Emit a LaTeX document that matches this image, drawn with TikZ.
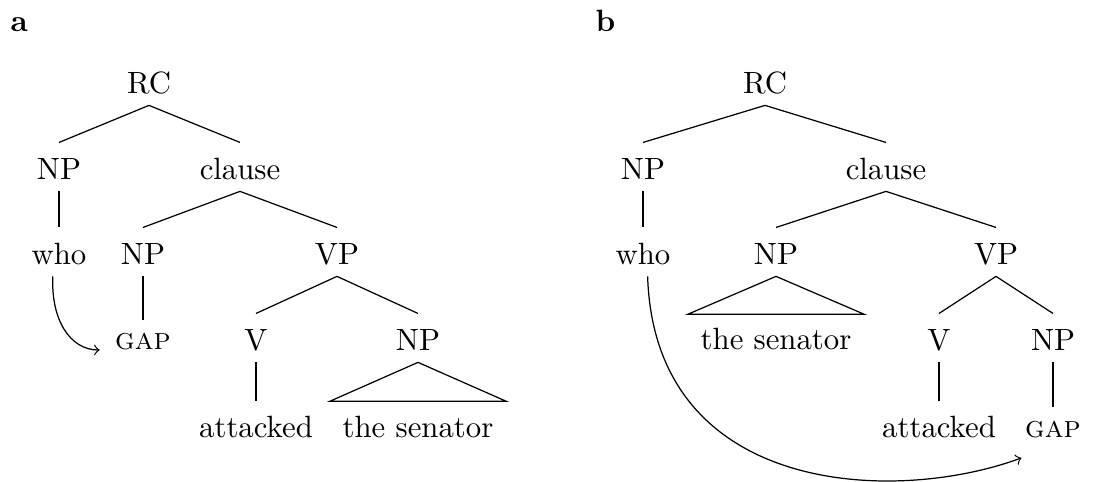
\documentclass[tikz,border=0pt]{standalone}
\begin{document}
\begin{tikzpicture}[x=0.325pt,y=-0.325pt,
  tn/.style={inner sep=0pt,anchor=base,text height=12pt,text depth=3.5pt},
  leaf/.style={inner sep=0pt,anchor=base,text height=11.4pt,text depth=3.5pt},
  gapn/.style={inner sep=0pt,anchor=base,text height=9.5pt,text depth=3.5pt},
  tri/.style={leaf,inner xsep=4pt},
  panel/.style={inner sep=0pt,anchor=base west,font=\bfseries},
  edge/.style={line width=0.4pt},
  move/.style={->,line width=0.4pt}]
\useasboundingbox (0,0) rectangle (1119,482);

% panel labels
\node[panel] (labA) at (10,32) {a};
\node[panel] (labB) at (595,32) {b};

% ---------- panel a ----------
\node[tn] (rcA) at (149,94) {RC};
\node[tn] (np1A) at (59,180) {NP};
\node[tn] (clA) at (240,180) {clause};
\node[tn] (whoA) at (59,265) {who};
\node[tn] (np2A) at (143,265) {NP};
\node[tn] (vpA) at (337,265) {VP};
\node[gapn] (gapA) at (143,350) {\textsc{gap}};
\node[tn] (vA) at (256,351) {V};
\node[tn] (np3A) at (418,351) {NP};
\node[leaf] (attA) at (256,437) {attacked};
\node[tri] (senA) at (418,437) {the senator};

\draw[edge] (rcA.south) -- (np1A.north);
\draw[edge] (rcA.south) -- (clA.north);
\draw[edge] (np1A.south) -- (whoA.north);
\draw[edge] (clA.south) -- (np2A.north);
\draw[edge] (clA.south) -- (vpA.north);
\draw[edge] (np2A.south) -- (gapA.north);
\draw[edge] (vpA.south) -- (vA.north);
\draw[edge] (vpA.south) -- (np3A.north);
\draw[edge] (vA.south) -- (attA.north);
\draw[edge] (np3A.south) -- (senA.north west) -- (senA.north east) -- cycle;

\draw[move] ([xshift=-2pt]whoA.south) .. controls +(-2,43) and +(-30,0) .. ([xshift=-4.8pt]gapA.base west);

% ---------- panel b ----------
\node[tn] (rcB) at (765,94) {RC};
\node[tn] (np1B) at (643,180) {NP};
\node[tn] (clB) at (886,180) {clause};
\node[tn] (whoB) at (643,265) {who};
\node[tn] (np2B) at (776,265) {NP};
\node[tn] (vpB) at (996,265) {VP};
\node[tri] (senB) at (776,350) {the senator};
\node[tn] (vB) at (939,351) {V};
\node[tn] (np3B) at (1053,351) {NP};
\node[leaf] (attB) at (939,437) {attacked};
\node[gapn] (gapB) at (1053,437) {\textsc{gap}};

\draw[edge] (rcB.south) -- (np1B.north);
\draw[edge] (rcB.south) -- (clB.north);
\draw[edge] (np1B.south) -- (whoB.north);
\draw[edge] (clB.south) -- (np2B.north);
\draw[edge] (clB.south) -- (vpB.north);
\draw[edge] (np2B.south) -- (senB.north west) -- (senB.north east) -- cycle;
\draw[edge] (vpB.south) -- (vB.north);
\draw[edge] (vpB.south) -- (np3B.north);
\draw[edge] (vB.south) -- (attB.north);
\draw[edge] (np3B.south) -- (gapB.north);

\draw[move] ([xshift=1.5pt]whoB.south) .. controls +(7,219) and +(-128,47) .. ([xshift=-1pt,yshift=-6.8pt]gapB.base west);
\end{tikzpicture}
\end{document}
